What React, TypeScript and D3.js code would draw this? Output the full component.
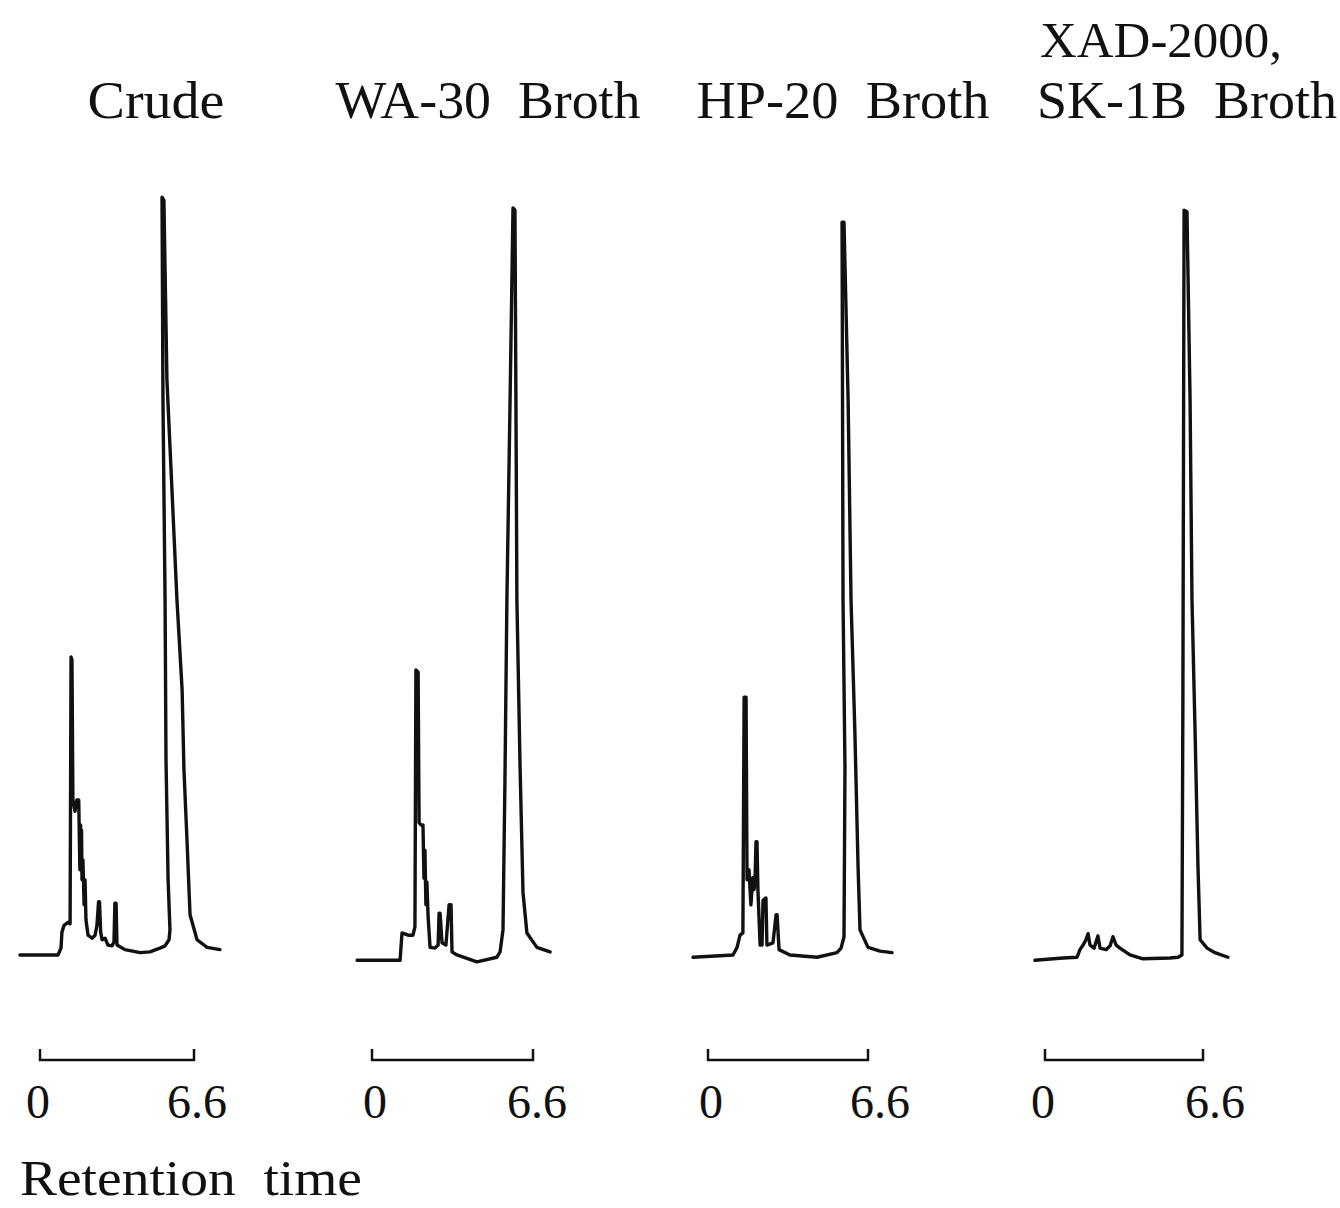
import React from "react";
import * as d3 from "d3";

// Panel titles
const titles = ["Crude", "WA-30  Broth", "HP-20  Broth", "SK-1B  Broth"];
const titleTopLine = "XAD-2000,";
const scaleTicks = [0, 6.6];
const axisTitle = "Retention  time";

// Chromatogram traces: [retention time, relative signal]
const crude: [number, number][] = [
  [-0.86, 0.4], [0.77, 0.4], [0.9, 1.3], [0.94, 3.4], [1.03, 4.3], [1.2, 4.7], [1.29, 4.5],
  [1.33, 39.6], [1.37, 39.2], [1.41, 20.8], [1.5, 19.3], [1.58, 20.8], [1.66, 20.8],
  [1.71, 11.6], [1.74, 17.5], [1.76, 12.0], [1.78, 16.8], [1.8, 10.3], [1.84, 12.9], [1.89, 7.0], [1.93, 10.3], [1.97, 5.0],
  [2.06, 3.0], [2.23, 2.6], [2.36, 3.0], [2.44, 4.3], [2.51, 7.4], [2.55, 7.4], [2.6, 3.4],
  [2.66, 2.4], [2.79, 2.6], [2.91, 1.7], [3.09, 1.6], [3.17, 2.1], [3.21, 7.2], [3.26, 7.2],
  [3.3, 1.7], [3.64, 1.1], [4.29, 0.7], [4.71, 0.8], [5.14, 1.3], [5.36, 1.6], [5.53, 2.4],
  [5.57, 3.7], [5.49, 10.3], [5.4, 26.1], [5.36, 47.1], [5.27, 73.4], [5.23, 100.1],
  [5.31, 99.7], [5.44, 76.1], [5.87, 47.1], [6.09, 35.3], [6.17, 24.7], [6.3, 15.5],
  [6.43, 5.7], [6.73, 2.4], [7.16, 1.4], [7.71, 1.1],
];

const wa30: [number, number][] = [
  [-0.61, -0.3], [1.15, -0.3], [1.23, 3.3], [1.48, 3.0], [1.68, 3.0], [1.76, 4.1],
  [1.8, 37.9], [1.89, 37.6], [1.93, 17.8], [2.01, 17.5], [2.09, 17.5], [2.13, 10.5],
  [2.17, 14.2], [2.21, 7.0], [2.25, 10.0], [2.3, 5.4], [2.38, 1.4], [2.58, 1.3], [2.71, 1.7],
  [2.75, 5.9], [2.79, 5.9], [2.87, 2.0], [3.03, 1.7], [3.16, 7.0], [3.24, 7.0], [3.28, 0.8],
  [3.48, 0.4], [4.3, -0.5], [5.12, 0.1], [5.25, 0.8], [5.37, 3.7], [5.45, 23.4], [5.53, 47.1],
  [5.66, 73.4], [5.78, 98.7], [5.86, 98.4], [5.9, 73.4], [5.94, 47.1], [6.07, 25.1],
  [6.19, 8.6], [6.35, 3.3], [6.76, 1.4], [7.3, 0.8],
];

const hp20: [number, number][] = [
  [-0.62, 0.1], [1.03, 0.4], [1.2, 1.4], [1.32, 3.0], [1.44, 3.3], [1.49, 34.3], [1.57, 34.3],
  [1.61, 10.3], [1.69, 11.6], [1.77, 7.0], [1.85, 10.6], [1.9, 9.0], [1.94, 10.3],
  [1.98, 15.3], [2.02, 15.3], [2.06, 8.9], [2.15, 1.7], [2.23, 1.7], [2.27, 7.6], [2.39, 7.9],
  [2.43, 1.7], [2.68, 2.0], [2.81, 5.7], [2.85, 5.7], [2.93, 1.1], [3.38, 0.4], [4.5, 0.1],
  [5.32, 0.7], [5.49, 1.3], [5.61, 2.8], [5.65, 25.1], [5.57, 47.1], [5.53, 96.8],
  [5.61, 96.8], [5.78, 73.4], [5.9, 47.1], [6.06, 29.6], [6.19, 12.0], [6.27, 3.7],
  [6.6, 1.4], [7.1, 0.9], [7.59, 0.7],
];

const sk1b: [number, number][] = [
  [-0.42, -0.3], [0.75, 0.0], [1.34, 0.1], [1.46, 1.1], [1.59, 1.7], [1.71, 2.4], [1.8, 3.2],
  [1.88, 1.7], [2.05, 1.3], [2.21, 2.9], [2.3, 1.3], [2.55, 1.1], [2.72, 1.6], [2.84, 2.8],
  [2.97, 1.7], [3.13, 1.3], [3.55, 0.4], [4.09, -0.1], [5.22, 0.0], [5.56, 0.1], [5.72, 0.4],
  [5.76, 33.9], [5.81, 98.4], [5.93, 98.2], [6.06, 73.4], [6.14, 47.1], [6.27, 29.6],
  [6.39, 12.0], [6.48, 2.4], [6.77, 1.3], [7.1, 0.7], [7.64, 0.1],
];

const traces = [crude, wa30, hp20, sk1b];

// Layout (pixels)
const W = 1340;
const H = 1208;
const barRanges: [number, number][] = [
  [40, 194],
  [372, 533],
  [708, 868],
  [1045, 1203],
];
const titleX = [156, 488, 843, 1187];
const titleW = [137, 305, 293, 300];
const labelDx = [[-2, 3], [3, 4], [3, 12], [-2, 12]];

const FONT = "'Liberation Serif', 'DejaVu Serif', serif";

export default function App() {
  const y = d3.scaleLinear().domain([0, 100]).range([958, 198]);
  const line = d3
    .line<[number, number]>()
    .curve(d3.curveLinear);

  return (
    <svg
      width={W}
      height={H}
      viewBox={`0 0 ${W} ${H}`}
      style={{ position: "absolute", left: 0, top: 0, background: "#fff" }}
    >
      <rect x={0} y={0} width={W} height={H} fill="#fff" />
      <text
        x={1161}
        y={57}
        fontFamily={FONT}
        fontSize={51}
        textAnchor="middle"
        textLength={242}
        lengthAdjust="spacingAndGlyphs"
        fill="#111"
      >
        {titleTopLine}
      </text>
      {traces.map((data, i) => {
        const x = d3.scaleLinear().domain([0, 6.6]).range(barRanges[i]);
        line.x((d) => x(d[0])).y((d) => y(d[1]));
        const path = line(data) || "";
        const x0 = x(scaleTicks[0]);
        const x1 = x(scaleTicks[1]);
        return (
          <g key={i}>
            <text
              x={titleX[i]}
              y={118}
              fontFamily={FONT}
              fontSize={53}
              textAnchor="middle"
              textLength={titleW[i]}
              lengthAdjust="spacingAndGlyphs"
              fill="#111"
              style={{ whiteSpace: "pre" }}
            >
              {titles[i]}
            </text>
            <path
              d={path}
              fill="none"
              stroke="#111"
              strokeWidth={3.4}
              strokeLinejoin="round"
              strokeLinecap="round"
            />
            <path
              d={`M${x0},1049V1060H${x1}V1049`}
              fill="none"
              stroke="#111"
              strokeWidth={2.5}
            />
            {scaleTicks.map((t, j) => (
              <text
                key={j}
                x={x(t) + labelDx[i][j]}
                y={1118}
                fontFamily={FONT}
                fontSize={48}
                textAnchor="middle"
                fill="#111"
              >
                {String(t)}
              </text>
            ))}
          </g>
        );
      })}
      <text
        x={20}
        y={1195}
        fontFamily={FONT}
        fontSize={51}
        textLength={342}
        lengthAdjust="spacingAndGlyphs"
        fill="#111"
        style={{ whiteSpace: "pre" }}
      >
        {axisTitle}
      </text>
    </svg>
  );
}
